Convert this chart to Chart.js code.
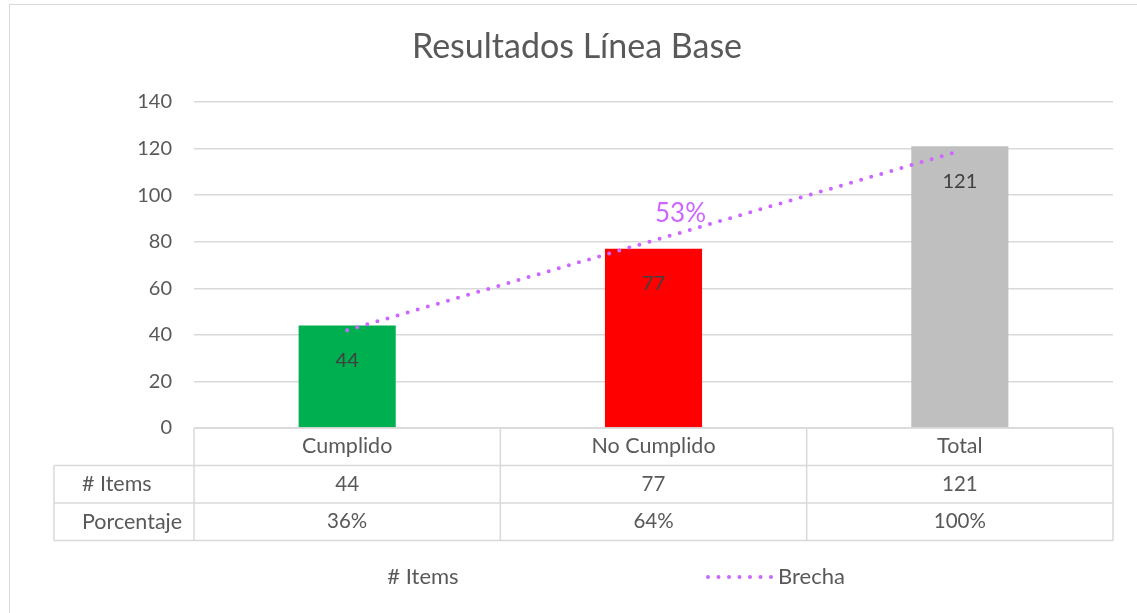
<!DOCTYPE html>
<html>
<head>
<meta charset="utf-8">
<title>Resultados Línea Base</title>
<script src="https://cdn.jsdelivr.net/npm/chart.js@4.4.1/dist/chart.umd.min.js"></script>
<style>
  html, body { margin: 0; padding: 0; background: #fff; overflow: hidden; }
  #frame { position: absolute; left: 9px; top: 4px; width: 1140px; height: 620px; border: 1.5px solid #D9D9D9; }
  canvas { position: absolute; left: 0; top: 0; }
</style>
</head>
<body>
<div id="frame"></div>
<canvas id="baseChart" width="1137" height="613"></canvas>
<script>
// Chart data
const categories = ["Cumplido", "No Cumplido", "Total"];
const items = [44, 77, 121];
const percentages = ["36%", "64%", "100%"];
const brecha = [42, 80.5, 119];
const brechaLabel = "53%";
const barColors = ["#00B050", "#FF0000", "#BFBFBF"];
const rowLabels = ["# Items", "Porcentaje"];

const FONT = "Lato, 'Open Sans', sans-serif";
const TEXT = "#595959";
const GRID = "#D9D9D9";
const PURPLE = "#CC66FF";

// draws the data table, legend, data labels and title
const tablePlugin = {
  id: "tablePlugin",
  afterDatasetsDraw(chart) {
    const ctx = chart.ctx;

    // labels inside bars
    const bars = chart.getDatasetMeta(1).data;
    ctx.save();
    ctx.font = "20px " + FONT;
    ctx.fillStyle = "#404040";
    ctx.textAlign = "center";
    ctx.textBaseline = "middle";
    bars.forEach((bar, i) => {
      ctx.fillText(String(items[i]), bar.x, bar.y + 35);
    });

    // gap label on the trend line
    const mid = chart.getDatasetMeta(0).data[1];
    ctx.font = "26px " + FONT;
    ctx.fillStyle = PURPLE;
    ctx.fillText(brechaLabel, mid.x + 27, mid.y - 27);
    ctx.restore();
  },
  afterDraw(chart) {
    const ctx = chart.ctx;
    const x = chart.scales.x;
    const area = chart.chartArea;
    const step = (area.right - area.left) / categories.length;
    const rowH = 37.5;
    const top = area.bottom;
    const tableLeft = 54;

    ctx.save();
    ctx.strokeStyle = GRID;
    ctx.lineWidth = 1.5;

    // header row top (axis line)
    ctx.beginPath();
    ctx.moveTo(area.left, top);
    ctx.lineTo(area.right, top);
    // row lines
    for (let r = 1; r <= 3; r++) {
      ctx.moveTo(tableLeft, top + r * rowH);
      ctx.lineTo(area.right, top + r * rowH);
    }
    // column lines
    for (let c = 0; c <= categories.length; c++) {
      const cx = area.left + c * step;
      ctx.moveTo(cx, top);
      ctx.lineTo(cx, top + 3 * rowH);
    }
    ctx.moveTo(tableLeft, top + rowH);
    ctx.lineTo(tableLeft, top + 3 * rowH);
    ctx.stroke();

    // table text
    ctx.font = "21.5px " + FONT;
    ctx.fillStyle = TEXT;
    ctx.textBaseline = "middle";
    ctx.textAlign = "left";
    rowLabels.forEach((lbl, r) => {
      ctx.fillText(lbl, 82, top + (r + 1.5) * rowH);
    });
    ctx.font = "20.5px " + FONT;
    ctx.textAlign = "center";
    categories.forEach((cat, i) => {
      const cx = x.getPixelForValue(i);
      ctx.fillText(String(items[i]), cx, top + 1.5 * rowH);
      ctx.fillText(percentages[i], cx, top + 2.5 * rowH);
    });

    // legend
    const ly = 577;
    ctx.font = "22px " + FONT;
    ctx.fillText(chart.data.datasets[1].label, 423, ly);
    ctx.strokeStyle = PURPLE;
    ctx.lineWidth = 4;
    ctx.lineCap = "round";
    ctx.setLineDash([0, 10.5]);
    ctx.beginPath();
    ctx.moveTo(708, ly);
    ctx.lineTo(772, ly);
    ctx.stroke();
    ctx.setLineDash([]);
    ctx.textAlign = "left";
    ctx.fillText(chart.data.datasets[0].label, 778, ly);

    // title
    ctx.textAlign = "center";
    ctx.font = "34px " + FONT;
    ctx.fillText("Resultados Línea Base", 577, 47);
    ctx.restore();
  }
};

const ctx = document.getElementById("baseChart").getContext("2d");
new Chart(ctx, {
  data: {
    labels: categories,
    datasets: [
      {
        type: "line",
        label: "Brecha",
        data: brecha,
        borderColor: PURPLE,
        borderWidth: 4,
        borderDash: [0, 10.5],
        borderCapStyle: "round",
        pointRadius: 0,
        fill: false,
        order: 0,
      },
      {
        type: "bar",
        label: "# Items",
        data: items,
        backgroundColor: barColors,
        barPercentage: 0.317,
        categoryPercentage: 1,
        order: 1,
      },
    ],
  },
  options: {
    responsive: false,
    animation: false,
    devicePixelRatio: 1,
    layout: { padding: { top: 102, right: 24, bottom: 0, left: 0 } },
    plugins: {
      legend: { display: false },
      title: { display: false },
      tooltip: { enabled: false },
    },
    scales: {
      x: {
        grid: { display: false, drawTicks: false },
        border: { display: false },
        ticks: { color: TEXT, font: { family: FONT, size: 21.5 }, padding: 5 },
        afterFit: (s) => { s.height = 185; },
      },
      y: {
        min: 0,
        max: 140,
        ticks: { stepSize: 20, color: TEXT, font: { family: FONT, size: 20 }, padding: 22 },
        grid: { color: GRID, lineWidth: 1.5, drawTicks: false },
        border: { display: false },
        afterFit: (s) => { s.width = 194; },
      },
    },
  },
  plugins: [tablePlugin],
});
</script>
</body>
</html>
